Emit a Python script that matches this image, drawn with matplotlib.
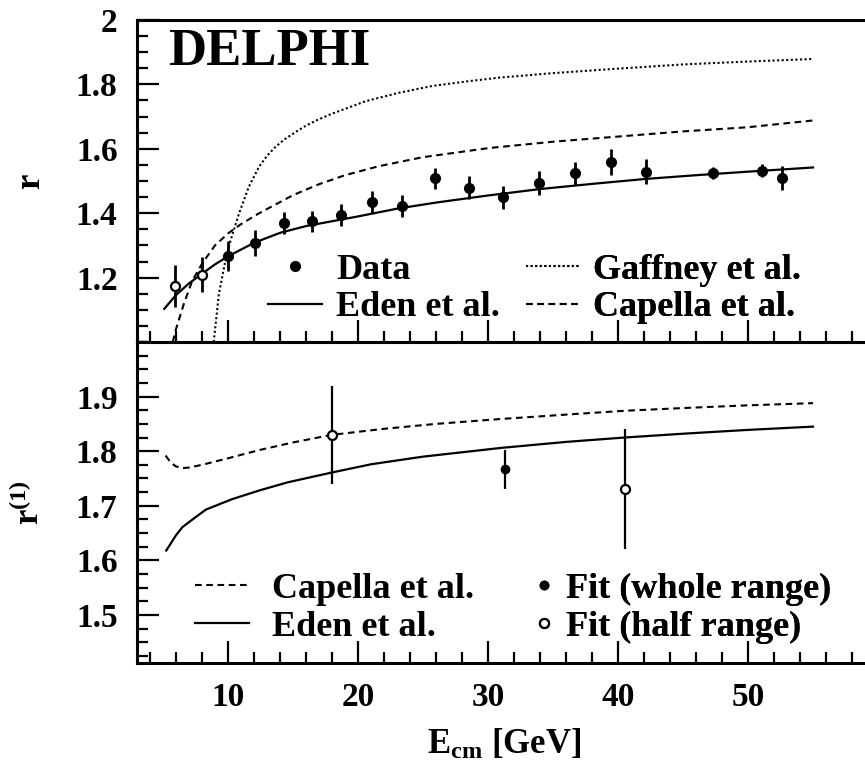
import matplotlib
matplotlib.use("Agg")
import matplotlib.pyplot as plt
from matplotlib.ticker import FixedLocator, MultipleLocator, FixedFormatter

plt.rcParams["font.family"] = ["Liberation Serif", "DejaVu Serif"]
plt.rcParams["font.weight"] = "bold"
plt.rcParams["axes.labelweight"] = "bold"
plt.rcParams["mathtext.fontset"] = "custom"
plt.rcParams["mathtext.rm"] = "Liberation Serif:bold"
plt.rcParams["mathtext.it"] = "Liberation Serif:bold"
plt.rcParams["mathtext.bf"] = "Liberation Serif:bold"

# ---- upper panel: r ----
E_fit = [10.0, 12.1, 14.27, 16.46, 18.72, 21.05, 23.4, 25.96, 28.54, 31.18,
         33.95, 36.7, 39.45, 42.17, 47.29, 51.07, 52.6]
r_fit = [1.266, 1.307, 1.370, 1.375, 1.394, 1.435, 1.422, 1.508, 1.479, 1.449,
         1.495, 1.524, 1.559, 1.529, 1.524, 1.532, 1.510]
r_fit_err = [0.047, 0.040, 0.034, 0.033, 0.035, 0.034, 0.034, 0.033, 0.035, 0.035,
             0.037, 0.036, 0.039, 0.038, 0.018, 0.020, 0.037]
E_half = [5.94, 7.98]
r_half = [1.175, 1.209]
r_half_err = [0.065, 0.055]

E_eden = [5.1, 6, 7, 8, 9, 10, 12, 14, 16, 18, 20, 23, 26, 30, 34, 38, 42, 46, 50, 55]
r_eden = [1.103, 1.146, 1.182, 1.212, 1.241, 1.266, 1.308, 1.339, 1.360, 1.375,
          1.390, 1.414, 1.433, 1.455, 1.475, 1.491, 1.506, 1.518, 1.529, 1.542]

E_capella = [5.75, 6.0, 6.6, 7.25, 8, 9, 10, 11, 12.4, 15, 17, 19, 21.6, 25,
             30, 35, 40, 45, 50, 55]
r_capella = [1.0, 1.04, 1.118, 1.19, 1.243, 1.30, 1.337, 1.366, 1.40, 1.456,
             1.490, 1.518, 1.546, 1.574, 1.602, 1.622, 1.638, 1.654, 1.667, 1.688]

E_gaffney = [8.9, 9.3, 9.8, 10.2, 10.85, 11.6, 12.4, 13.0, 13.6, 14.3, 15.2, 16.0,
             16.9, 18, 20.6, 23.15, 25.7, 28.3, 30.85, 35, 40, 45, 50, 55]
r_gaffney = [1.0, 1.149, 1.253, 1.316, 1.399, 1.482, 1.545, 1.578, 1.604, 1.628,
             1.652, 1.672, 1.690, 1.709, 1.748, 1.774, 1.795, 1.809, 1.821, 1.835,
             1.849, 1.862, 1.871, 1.879]

# ---- lower panel: r^(1) ----
E1_fit = [31.33]
r1_fit = [1.767]
r1_fit_err = [0.036]
E1_half = [17.98, 40.54]
r1_half = [1.830, 1.730]
r1_half_err = [0.09, 0.11]

E1_capella = [5.2, 5.6, 6.0, 6.5, 7.0, 8, 10, 12.4, 15, 18, 22, 26, 31, 36, 40.5, 45, 50, 55]
r1_capella = [1.792, 1.779, 1.772, 1.769, 1.770, 1.775, 1.787, 1.802, 1.816, 1.830,
              1.841, 1.850, 1.859, 1.867, 1.874, 1.879, 1.884, 1.888]
E1_eden = [5.25, 6, 6.5, 7.5, 8.3, 10.3, 12.4, 14.6, 18, 21, 25, 31, 36, 40.5, 45, 50, 55]
r1_eden = [1.618, 1.646, 1.661, 1.679, 1.693, 1.712, 1.728, 1.743, 1.761, 1.776,
           1.790, 1.806, 1.817, 1.825, 1.832, 1.839, 1.845]

top_ticks = [1.2, 1.4, 1.6, 1.8, 2.0]
top_labels = ["1.2", "1.4", "1.6", "1.8", "2"]
bot_ticks = [1.5, 1.6, 1.7, 1.8, 1.9]
bot_labels = ["1.5", "1.6", "1.7", "1.8", "1.9"]
x_ticks = [10, 20, 30, 40, 50]

FS = 25
LFS = 26
DOT = (0, (1, 1.2))
DASH = (0, (3.2, 2.2))


def style_axis(ax):
    for s in ax.spines.values():
        s.set_linewidth(2.2)
    ax.set_xlim(3, 59.5)
    ax.xaxis.set_major_locator(FixedLocator(x_ticks))
    ax.xaxis.set_minor_locator(MultipleLocator(2))
    ax.tick_params(which="both", direction="in", top=False, right=False, width=1.6,
                   labelsize=FS - 1)
    ax.tick_params(which="major", length=16, pad=14)
    ax.tick_params(which="minor", length=8)


def add_legend(ax, handles, labels, x, y, hlen, pad):
    leg = ax.legend(handles, labels, frameon=False, fontsize=LFS, loc="lower left",
                    bbox_to_anchor=(x, y), handlelength=hlen, handletextpad=pad,
                    labelspacing=0.12, borderpad=0, borderaxespad=0)
    ax.add_artist(leg)
    return leg


def main():
    fig = plt.figure(figsize=(8.65, 7.65), dpi=100)
    W, H = 865.0, 765.0
    left, width = 137 / W, (871.5 - 137) / W
    ax1 = fig.add_axes([left, 1 - 342 / H, width, 322 / H])
    ax2 = fig.add_axes([left, 1 - 663 / H, width, 321 / H])

    # Upper panel
    style_axis(ax1)
    ax1.set_ylim(1.0, 2.0)
    ax1.yaxis.set_major_locator(FixedLocator(top_ticks))
    ax1.yaxis.set_major_formatter(FixedFormatter(top_labels))
    ax1.yaxis.set_minor_locator(MultipleLocator(0.05))
    ax1.tick_params(axis="x", labelbottom=False)

    l_gaf, = ax1.plot(E_gaffney, r_gaffney, color="black", lw=1.5, ls=DOT)
    l_cap, = ax1.plot(E_capella, r_capella, color="black", lw=1.5, ls=DASH)
    l_eden, = ax1.plot(E_eden, r_eden, color="black", lw=1.6)
    d_fit = ax1.errorbar(E_fit, r_fit, yerr=r_fit_err, fmt="o", color="black",
                         ms=7, elinewidth=2, capsize=0, zorder=5)
    ax1.errorbar(E_half, r_half, yerr=r_half_err, fmt="o", color="black", mfc="white",
                 mew=1.6, ms=6.5, elinewidth=2, capsize=0, zorder=5)
    ax1.text(0.042, 0.86, "DELPHI", transform=ax1.transAxes, fontsize=38,
             fontweight="bold", va="baseline", ha="left")
    ax1.set_ylabel("r", fontsize=FS)
    ax1.yaxis.set_label_coords(-0.122, 0.5)
    add_legend(ax1, [d_fit[0], l_eden], ["Data", "Eden et al."], 0.178, 0.055, 1.5, 0.4)
    add_legend(ax1, [l_gaf, l_cap], ["Gaffney et al.", "Capella et al."],
               0.53, 0.055, 1.5, 0.35)

    # Lower panel
    style_axis(ax2)
    ax2.set_ylim(1.412, 2.0)
    ax2.yaxis.set_major_locator(FixedLocator(bot_ticks))
    ax2.yaxis.set_major_formatter(FixedFormatter(bot_labels))
    ax2.yaxis.set_minor_locator(MultipleLocator(0.025))

    b_cap, = ax2.plot(E1_capella, r1_capella, color="black", lw=1.5, ls=DASH)
    b_eden, = ax2.plot(E1_eden, r1_eden, color="black", lw=1.6)
    f_full = ax2.errorbar(E1_fit, r1_fit, yerr=r1_fit_err, fmt="o", color="black",
                          ms=6, elinewidth=1.6, capsize=0, zorder=5)
    f_half = ax2.errorbar(E1_half, r1_half, yerr=r1_half_err, fmt="o", color="black",
                          mfc="white", mew=1.6, ms=6.5, elinewidth=1.6, capsize=0, zorder=5)
    ax2.set_ylabel(r"r$^{\mathrm{(1)}}$", fontsize=FS)
    ax2.yaxis.set_label_coords(-0.122, 0.5)
    ax2.set_xlabel(r"E$_{\mathrm{cm}}$ [GeV]", fontsize=FS, labelpad=10)
    add_legend(ax2, [b_cap, b_eden], ["Capella et al.", "Eden et al."],
               0.079, 0.06, 1.5, 0.62)
    add_legend(ax2, [f_full[0], f_half[0]], ["Fit (whole range)", "Fit (half range)"],
               0.54, 0.06, 0.6, 0.3)

    fig.savefig("out.png", dpi=100)


if __name__ == "__main__":
    main()
